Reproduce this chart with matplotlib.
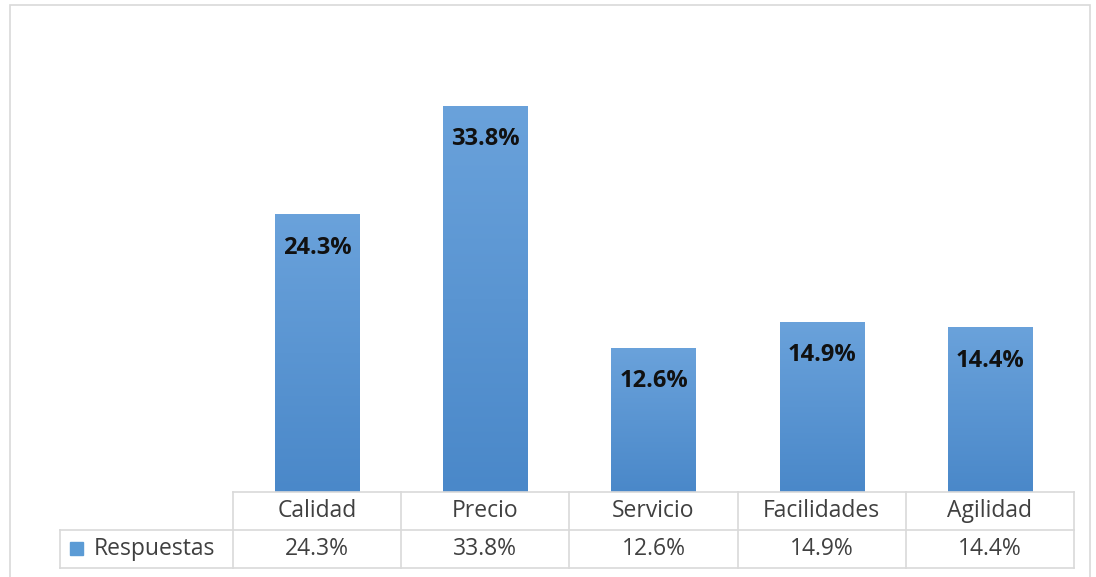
import matplotlib.pyplot as plt
import numpy as np
from matplotlib.patches import Rectangle
from matplotlib.colors import LinearSegmentedColormap

categories = ["Calidad", "Precio", "Servicio", "Facilidades", "Agilidad"]
values = [24.3, 33.8, 12.6, 14.9, 14.4]
series_name = "Respuestas"

plt.rcParams['font.family'] = ['Open Sans', 'DejaVu Sans']

W, H = 1096, 577
fig = plt.figure(figsize=(W / 100, H / 100), dpi=100)


def fx(px):
    return px / W


def fy(py):
    return 1 - py / H


# outer chart border
fig.patches.append(Rectangle((fx(10), fy(590)), fx(1080), fy(5) - fy(590),
                             transform=fig.transFigure, fill=False,
                             edgecolor='#D9D9D9', lw=1.2))

# plot area
ax = fig.add_axes([fx(233), fy(492), fx(1074) - fx(233), fy(35) - fy(492)])
ax.set_xlim(-0.5, len(categories) - 0.5)
ax.set_ylim(0, 40)
ax.axis('off')

x = np.arange(len(categories))
bars = ax.bar(x, values, width=0.5, color='#5B9BD5', edgecolor='none')

# vertical gradient, lighter at the top
grad = np.linspace(0, 1, 256).reshape(-1, 1)
cmap = LinearSegmentedColormap.from_list('g', ['#4A88C9', '#6AA2DB'])
for b in bars:
    im = ax.imshow(grad, extent=(b.get_x(), b.get_x() + b.get_width(), 0, b.get_height()),
                   origin='lower', cmap=cmap, aspect='auto', zorder=2)
    im.set_clip_path(b)

for xi, v in zip(x, values):
    ax.annotate(f"{v}%", (xi, v), xytext=(0, -24), textcoords='offset points',
                ha='center', va='center', fontsize=17, fontweight='bold',
                color='#111111', zorder=3)

# data table
tab = fig.add_axes([fx(60), fy(568), fx(1074) - fx(60), fy(492) - fy(568)])
left = -0.5 - (233 - 60) / ((1074 - 233) / len(categories))
tab.set_xlim(left, len(categories) - 0.5)
tab.set_ylim(0, 2)
tab.axis('off')

lc = '#D9D9D9'
edges = np.arange(len(categories) + 1) - 0.5
for e in edges:
    tab.plot([e, e], [0, 2], color=lc, lw=1.2, clip_on=False)
tab.plot([left, left], [0, 1], color=lc, lw=1.2, clip_on=False)
tab.plot([-0.5, edges[-1]], [2, 2], color=lc, lw=1.2, clip_on=False)
tab.plot([left, edges[-1]], [1, 1], color=lc, lw=1.2, clip_on=False)
tab.plot([left, edges[-1]], [0, 0], color=lc, lw=1.2, clip_on=False)

for xi, c, v in zip(x, categories, values):
    tab.text(xi, 1.5, c, ha='center', va='center', fontsize=16.5, color='#404040')
    tab.text(xi, 0.5, f"{v}%", ha='center', va='center', fontsize=16.5, color='#404040')

tab.add_patch(Rectangle((left + 0.06, 0.34), 0.075, 0.34, color='#5B9BD5', clip_on=False))
tab.text(left + 0.2, 0.5, series_name, ha='left', va='center', fontsize=16.5, color='#404040')

fig.savefig('out.png', dpi=100)
